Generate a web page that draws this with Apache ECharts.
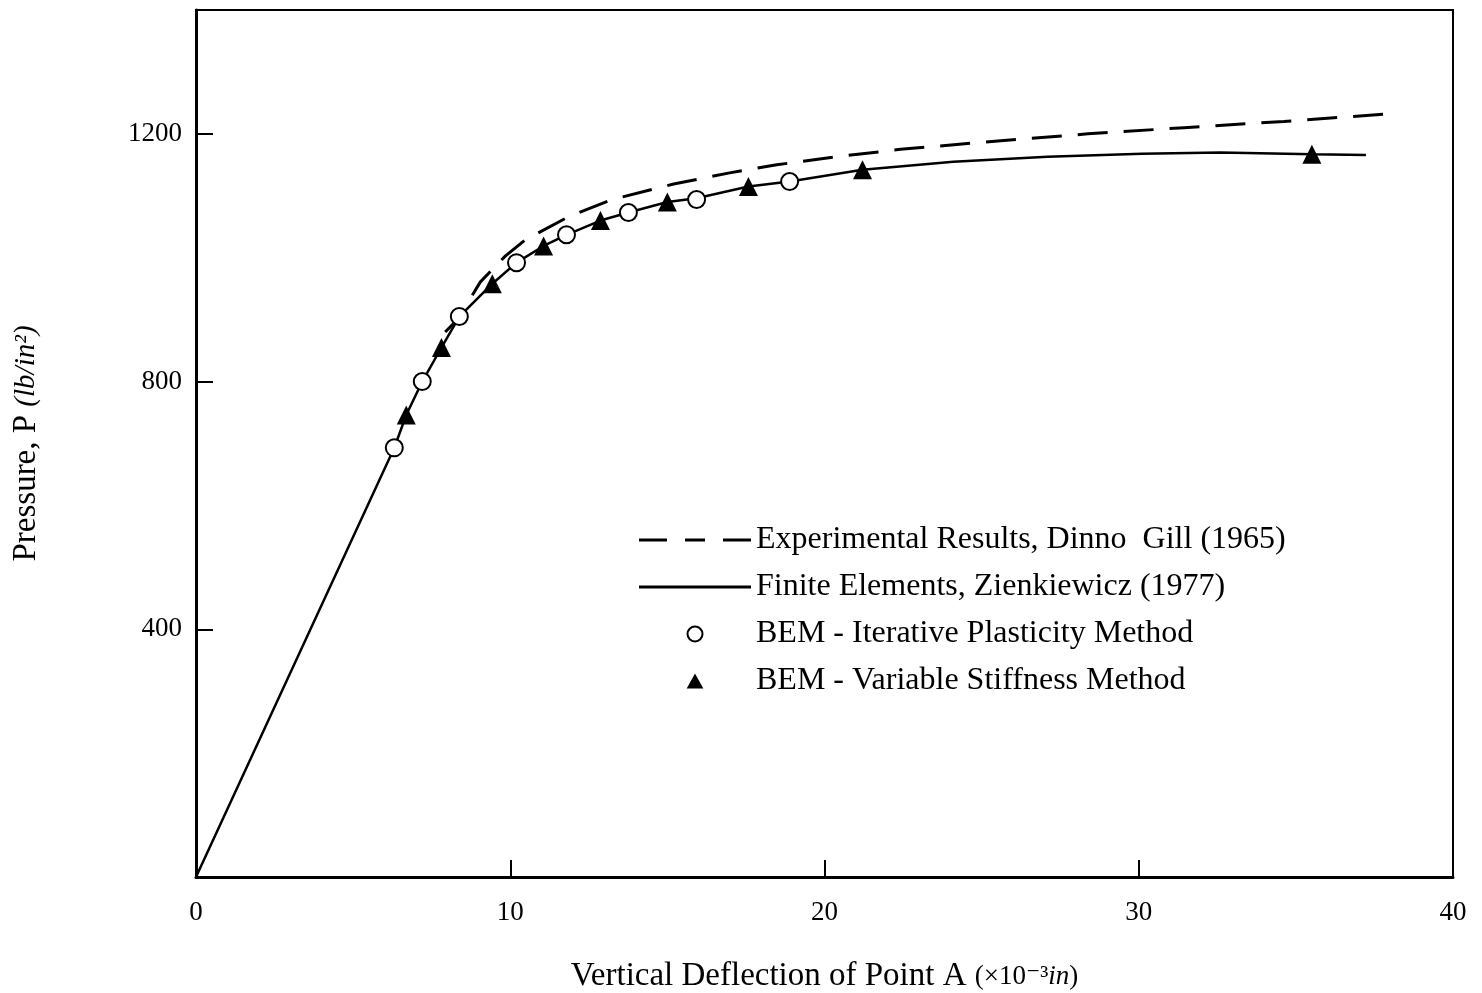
<!DOCTYPE html>
<html>
<head>
<meta charset="utf-8">
<script src="https://cdn.jsdelivr.net/npm/echarts@6/dist/echarts.min.js"></script>
<style>
  html, body { margin: 0; padding: 0; background: #fff; }
  #chart { width: 1482px; height: 993px; }
</style>
</head>
<body>
<div id="chart"></div>
<script>
// Vertical deflection of point A (x10^-3 in) against pressure (lb/in^2)
const seriesNames = [
  'Experimental Results, Dinno  Gill (1965)',
  'Finite Elements, Zienkiewicz (1977)',
  'BEM - Iterative Plasticity Method',
  'BEM - Variable Stiffness Method'
];

// Experimental curve (dashed)
const experimentalX = [7.93, 8.32, 9.05, 9.85, 10.48, 11.85, 13.25, 15.2, 16.98, 18.48, 20.2, 22.42, 25.61, 28.38, 31.44, 34.62, 38.13];
const experimentalP = [880, 900, 961, 1003, 1029, 1066, 1094, 1119, 1137, 1150, 1162, 1175, 1189, 1200, 1210, 1220, 1233];

// Finite element curve (solid)
const feX = [0, 6.31, 6.69, 7.2, 7.81, 8.38, 9.43, 10.2, 11.06, 11.79, 12.87, 13.76, 15.0, 15.93, 17.58, 18.89, 21.21, 24.1, 27.1, 30.1, 32.6, 35.51, 37.23];
const feP = [0, 693, 746, 800, 855, 905, 958, 992, 1019, 1037, 1060, 1073, 1090, 1096, 1115, 1123, 1142, 1155, 1163, 1168, 1170, 1167, 1166];

// BEM iterative plasticity (open circles)
const iterX = [6.31, 7.2, 8.38, 10.2, 11.79, 13.76, 15.93, 18.89];
const iterP = [693, 800, 905, 992, 1037, 1073, 1094, 1123];

// BEM variable stiffness (filled triangles)
const varX = [6.69, 7.81, 9.43, 11.06, 12.87, 15.0, 17.58, 21.21, 35.51];
const varP = [746, 855, 958, 1019, 1060, 1090, 1115, 1142, 1167];

// Axis ticks
const xTicks = [0, 10, 20, 30, 40];
const yTicks = [400, 800, 1200];

const pairs = (xs, ys) => xs.map((x, i) => [x, ys[i]]);

const FONT = '"Liberation Serif", "DejaVu Serif", serif';
const INK = '#000';

// Legend keys: three dashes, one solid bar, open circle, filled triangle
const legendIcons = [
  'path://M0,0H28V3H0Z M46,0H66V3H46Z M84,0H112V3H84Z',
  'path://M0,0H112V3H0Z',
  'circle',
  'path://M5,0L10,9L0,9Z'
];
const legendItemStyles = [
  { color: INK, borderWidth: 0 },
  { color: INK, borderWidth: 0 },
  { color: '#fff', borderColor: INK, borderWidth: 2 },
  { color: INK, borderWidth: 0 }
];

const chart = echarts.init(document.getElementById('chart'), null, { renderer: 'canvas' });

chart.setOption({
  backgroundColor: '#fff',
  animation: false,
  textStyle: { fontFamily: FONT, color: INK },
  grid: {
    left: 196, right: 29, top: 10, bottom: 116,
    outerBoundsMode: 'none',
    containLabel: false,
    show: true, borderColor: INK, borderWidth: 2, backgroundColor: 'transparent'
  },
  legend: {
    orient: 'vertical',
    left: 634,
    top: 519,
    itemWidth: 112,
    itemHeight: 15,
    itemGap: 15,
    symbolKeepAspect: true,
    data: seriesNames.map((n, i) => ({ name: n, icon: legendIcons[i], itemStyle: legendItemStyles[i] })),
    textStyle: { fontFamily: FONT, fontSize: 32, color: INK, lineHeight: 32 },
    inactiveColor: INK
  },
  xAxis: {
    type: 'value',
    min: 0, max: 40, interval: 10,
    axisLine: { show: true, lineStyle: { color: INK, width: 3 } },
    axisTick: { show: true, inside: true, length: 17, lineStyle: { color: INK, width: 2 } },
    splitLine: { show: false },
    axisLabel: {
      margin: 22, fontSize: 27, fontFamily: FONT, color: INK,
      formatter: v => (xTicks.indexOf(v) >= 0 ? String(v) : '')
    },
    name: '{a|Vertical Deflection of Point A }{b|(×10⁻³}{c|in}{b|)}',
    nameLocation: 'middle',
    nameGap: 83,
    nameTextStyle: {
      rich: {
        a: { fontFamily: FONT, fontSize: 33, color: INK },
        b: { fontFamily: FONT, fontSize: 27, color: INK },
        c: { fontFamily: FONT, fontSize: 27, fontStyle: 'italic', color: INK }
      }
    }
  },
  yAxis: {
    type: 'value',
    min: 0, max: 1400, interval: 400,
    axisLine: { show: true, lineStyle: { color: INK, width: 3 } },
    axisTick: { show: true, inside: true, length: 17, lineStyle: { color: INK, width: 2 } },
    splitLine: { show: false },
    axisLabel: {
      margin: 14, fontSize: 27, fontFamily: FONT, color: INK,
      formatter: v => (yTicks.indexOf(v) >= 0 ? String(v) : '')
    },
    name: '{a|Pressure, P }{c|(lb/in²)}',
    nameLocation: 'middle',
    nameGap: 153,
    nameTextStyle: {
      rich: {
        a: { fontFamily: FONT, fontSize: 33, color: INK },
        c: { fontFamily: FONT, fontSize: 29, fontStyle: 'italic', color: INK }
      }
    }
  },
  series: [
    {
      name: seriesNames[0],
      type: 'line',
      data: pairs(experimentalX, experimentalP),
      showSymbol: false,
      symbol: 'none',
      smooth: false,
      lineStyle: { color: INK, width: 3, type: [30, 16] },
      itemStyle: { color: INK },
      z: 2
    },
    {
      name: seriesNames[1],
      type: 'line',
      data: pairs(feX, feP),
      showSymbol: false,
      symbol: 'none',
      smooth: false,
      lineStyle: { color: INK, width: 2.5, type: 'solid' },
      itemStyle: { color: INK },
      z: 3
    },
    {
      name: seriesNames[2],
      type: 'scatter',
      data: pairs(iterX, iterP),
      symbol: 'circle',
      symbolSize: 17,
      itemStyle: { color: '#fff', borderColor: INK, borderWidth: 2, opacity: 1 },
      z: 5
    },
    {
      name: seriesNames[3],
      type: 'scatter',
      data: pairs(varX, varP),
      symbol: 'triangle',
      symbolSize: 19,
      itemStyle: { color: INK, borderColor: INK, borderWidth: 0, opacity: 1 },
      z: 5
    }
  ]
});
</script>
</body>
</html>
